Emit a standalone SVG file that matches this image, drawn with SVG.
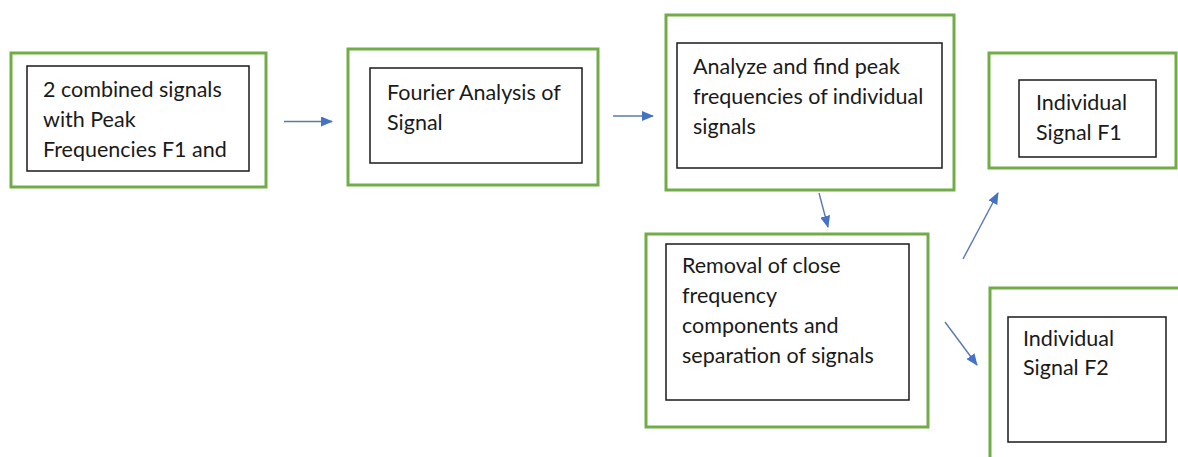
<svg xmlns="http://www.w3.org/2000/svg" width="1178" height="457" viewBox="0 0 1178 457">
  <defs>
    <marker id="arrow" viewBox="0 0 12 10" refX="11" refY="5" markerWidth="12" markerHeight="10" markerUnits="userSpaceOnUse" orient="auto">
      <path d="M0,0 L12,5 L0,10 Z" fill="#4472C4"/>
    </marker>
  </defs>
  <style>
    .outer { fill: #ffffff; stroke: #70AD47; stroke-width: 3; }
    .inner { fill: #ffffff; stroke: #1a1a1a; stroke-width: 1.5; }
    .label { font-family: Lato, "Open Sans", sans-serif; font-size: 21.5px; fill: #1a1a1a; }
    .conn { stroke: #5a78b0; stroke-width: 1.4; fill: none; marker-end: url(#arrow); }
  </style>
  <rect width="1178" height="457" fill="#ffffff"/>

  <g id="combined-signals">
    <rect class="outer" x="11" y="53" width="255" height="134"/>
    <rect class="inner" x="27" y="66" width="222" height="105"/>
    <text class="label"><tspan x="43" y="97">2 combined signals</tspan><tspan x="43" y="127">with Peak</tspan><tspan x="43" y="157">Frequencies F1 and</tspan></text>
  </g>

  <g id="fourier-analysis">
    <rect class="outer" x="348" y="49" width="250" height="136"/>
    <rect class="inner" x="370" y="68" width="212" height="95"/>
    <text class="label"><tspan x="387" y="100">Fourier Analysis of</tspan><tspan x="387" y="130">Signal</tspan></text>
  </g>

  <g id="find-peaks">
    <rect class="outer" x="666" y="15" width="288" height="175"/>
    <rect class="inner" x="677" y="43" width="265" height="125"/>
    <text class="label"><tspan x="693" y="74">Analyze and find peak</tspan><tspan x="693" y="104">frequencies of individual</tspan><tspan x="693" y="134">signals</tspan></text>
  </g>

  <g id="signal-f1">
    <rect class="outer" x="989" y="53" width="187" height="115"/>
    <rect class="inner" x="1019" y="80" width="137" height="77"/>
    <text class="label"><tspan x="1036" y="110">Individual</tspan><tspan x="1036" y="140">Signal F1</tspan></text>
  </g>

  <g id="separation">
    <rect class="outer" x="646" y="234" width="282" height="193"/>
    <rect class="inner" x="666" y="244" width="243" height="156"/>
    <text class="label"><tspan x="682" y="273">Removal of close</tspan><tspan x="682" y="303">frequency</tspan><tspan x="682" y="333">components and</tspan><tspan x="682" y="363">separation of signals</tspan></text>
  </g>

  <g id="signal-f2">
    <rect class="outer" x="990" y="288" width="200" height="190"/>
    <rect class="inner" x="1008" y="317" width="158" height="125"/>
    <text class="label"><tspan x="1023" y="346">Individual</tspan><tspan x="1023" y="375">Signal F2</tspan></text>
  </g>

  <g id="connectors">
    <line class="conn" x1="284" y1="121.5" x2="332" y2="121.5"/>
    <line class="conn" x1="613" y1="116" x2="653" y2="116"/>
    <line class="conn" x1="819" y1="193" x2="828" y2="227"/>
    <line class="conn" x1="963" y1="259" x2="998" y2="193"/>
    <line class="conn" x1="945" y1="322" x2="977" y2="365"/>
  </g>
</svg>
